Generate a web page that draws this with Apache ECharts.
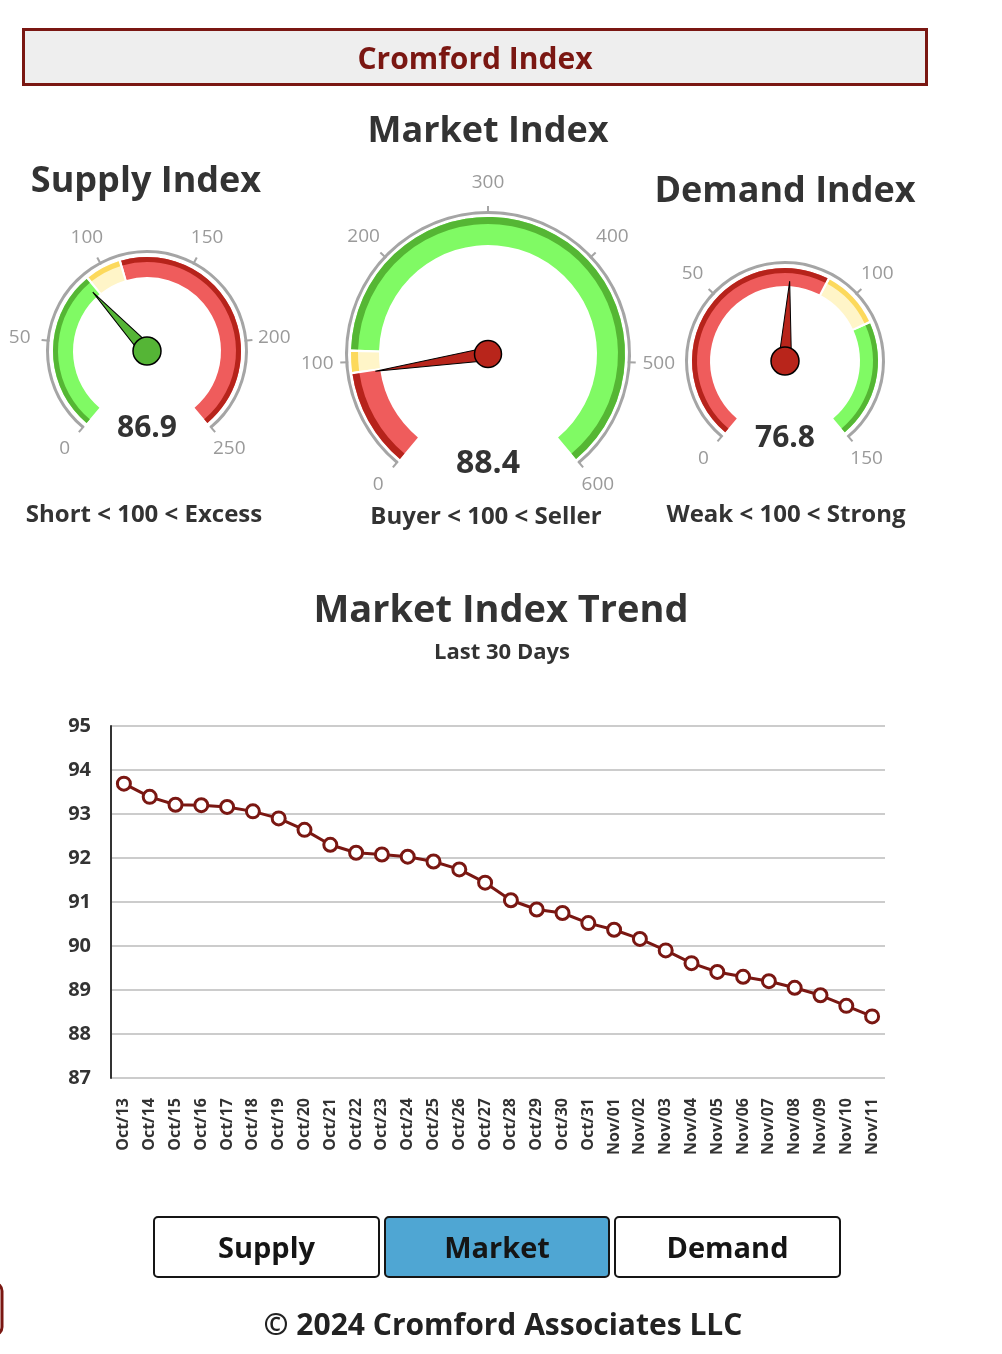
<!DOCTYPE html>
<html>
<head>
<meta charset="utf-8">
<title>Cromford Index</title>
<script src="https://cdn.jsdelivr.net/npm/echarts@6/dist/echarts.min.js"></script>
<style>
  html, body { margin: 0; padding: 0; background: #fff; }
  #page { width: 1002px; height: 1354px; }
</style>
</head>
<body>
<div id="page"></div>
<script>
// gauge readings
var supplyValue = 86.9;
var marketValue = 88.4;
var demandValue = 76.8;

// gauge scales: [min, max], number of splits, band edges
var supplyRange = [0, 250];
var marketRange = [0, 600];
var demandRange = [0, 150];
var supplySplits = 5;
var marketSplits = 6;
var demandSplits = 3;
var supplyEdges = [90, 110];
var marketEdges = [90, 110];
var demandEdges = [90, 110];

// trend (last 30 days)
var trendDates = ['Oct/13', 'Oct/14', 'Oct/15', 'Oct/16', 'Oct/17', 'Oct/18', 'Oct/19', 'Oct/20',
    'Oct/21', 'Oct/22', 'Oct/23', 'Oct/24', 'Oct/25', 'Oct/26', 'Oct/27', 'Oct/28', 'Oct/29',
    'Oct/30', 'Oct/31', 'Nov/01', 'Nov/02', 'Nov/03', 'Nov/04', 'Nov/05', 'Nov/06', 'Nov/07',
    'Nov/08', 'Nov/09', 'Nov/10', 'Nov/11'];
var trendValues = [93.69, 93.39, 93.21, 93.2, 93.16, 93.06, 92.9, 92.64, 92.3, 92.12, 92.08, 92.03,
    91.92, 91.74, 91.44, 91.04, 90.83, 90.75, 90.52, 90.37, 90.16, 89.9, 89.61, 89.41, 89.3, 89.2,
    89.05, 88.88, 88.64, 88.4];
var trendMin = 87, trendMax = 95;

var FONT = '"Open Sans", "Noto Sans", sans-serif';
var DARK = '#7a1712';
var light = { green: '#80fa64', yellow: '#fff5c8', red: '#ef5c5c' };
var dark = { green: '#55b634', yellow: '#fcd95c', red: '#b6231b' };

var myChart = echarts.init(document.getElementById('page'));

// colour stops with a thin white gap between bands
function bandStops(edges, colors, max, gap) {
    var stops = [];
    for (var i = 0; i < colors.length; i++) {
        if (i < edges.length) {
            stops.push([edges[i] / max - gap, colors[i]]);
            stops.push([edges[i] / max + gap, '#fff']);
        } else {
            stops.push([1, colors[i]]);
        }
    }
    return stops;
}

function hidden() {
    return {
        axisLine: { show: false, lineStyle: { width: 0 } },
        splitLine: { show: false, length: 0, distance: 0 },
        axisTick: { show: false },
        axisLabel: { show: false },
        pointer: { show: false },
        anchor: { show: false },
        title: { show: false },
        detail: { show: false }
    };
}

function gauge(g) {
    var base = { type: 'gauge', center: [g.cx, g.cy], startAngle: 230, endAngle: -50,
        min: g.range[0], max: g.range[1], splitNumber: g.splits, silent: true };
    var gap = 1.2 / (g.bandR * (280 / 180 * Math.PI));
    var light_ = g.colors.map(function (c) { return light[c]; });
    var dark_ = g.colors.map(function (c) { return dark[c]; });
    var out = [];

    // grey outer ring with ticks
    out.push(echarts.util.merge(echarts.util.merge({}, base), echarts.util.merge(hidden(), {
        radius: g.ringR, z: 2,
        axisLine: { show: true, lineStyle: { width: 3, color: [[1, '#a5a5a5']] } },
        splitLine: { show: true, length: 8, distance: -8, lineStyle: { color: '#a5a5a5', width: 2 } },
        data: []
    }, true)));
    // tick labels
    out.push(echarts.util.merge(echarts.util.merge({}, base), echarts.util.merge(hidden(), {
        radius: g.ringR, z: 2,
        axisLabel: { show: true, distance: g.ringR - g.labelR, rotate: 0.001, color: '#9a9a9a',
            fontSize: 19, fontFamily: FONT },
        data: []
    }, true)));
    // light band
    out.push(echarts.util.merge(echarts.util.merge({}, base), echarts.util.merge(hidden(), {
        radius: g.bandR, z: 3,
        axisLine: { show: true, lineStyle: { width: g.bandW, color: bandStops(g.edges, light_, g.range[1], gap) } },
        data: []
    }, true)));
    // darker outer edge of the band
    out.push(echarts.util.merge(echarts.util.merge({}, base), echarts.util.merge(hidden(), {
        radius: g.bandR, z: 4,
        axisLine: { show: true, lineStyle: { width: g.darkW, color: bandStops(g.edges, dark_, g.range[1], gap) } },
        data: []
    }, true)));
    // needle + value
    out.push(echarts.util.merge(echarts.util.merge({}, base), echarts.util.merge(hidden(), {
        radius: g.bandR, z: 6,
        pointer: { show: true, length: g.needle, width: 6.5,
            itemStyle: { color: g.needleColor, borderColor: '#000', borderWidth: 1 } },
        anchor: { show: true, showAbove: true, size: g.anchor,
            itemStyle: { color: g.needleColor, borderColor: '#000', borderWidth: 1.5 } },
        detail: { show: true, offsetCenter: [0, g.detailY], fontSize: g.detailSize, fontWeight: 'bold',
            color: '#333', fontFamily: FONT, formatter: '{value}' },
        data: [{ value: g.value }]
    }, true)));
    return out;
}

var gauges = []
    .concat(gauge({ cx: 147, cy: 351, range: supplyRange, splits: supplySplits, edges: supplyEdges,
        colors: ['green', 'yellow', 'red'], value: supplyValue, ringR: 101, labelR: 128,
        bandR: 94, bandW: 20, darkW: 5, needle: 80, anchor: 28, needleColor: '#55b536',
        detailY: 77, detailSize: 30 }))
    .concat(gauge({ cx: 488, cy: 354, range: marketRange, splits: marketSplits, edges: marketEdges,
        colors: ['red', 'yellow', 'green'], value: marketValue, ringR: 143, labelR: 171,
        bandR: 137, bandW: 28, darkW: 7, needle: 114, anchor: 27, needleColor: '#b8251b',
        detailY: 110, detailSize: 32 }))
    .concat(gauge({ cx: 785, cy: 361, range: demandRange, splits: demandSplits, edges: demandEdges,
        colors: ['red', 'yellow', 'green'], value: demandValue, ringR: 100, labelR: 127,
        bandR: 93, bandW: 18, darkW: 5, needle: 80, anchor: 28, needleColor: '#b8251b',
        detailY: 77, detailSize: 30 }));

function txt(x, y, s, size, color) {
    return { type: 'text', x: x, y: y + 2, silent: true, z: 10,
        style: { text: s, fill: color || '#333', font: 'bold ' + size + 'px ' + FONT,
            textAlign: 'center', textVerticalAlign: 'middle' } };
}

function button(x, w, label, fill) {
    return [
        { type: 'rect', shape: { x: x, y: 1217, width: w, height: 60, r: 4 }, silent: true,
            style: { fill: fill, stroke: '#151515', lineWidth: 2 } },
        txt(x + w / 2, 1248, label, 29, '#151515')
    ];
}

var option = {
    animation: false,
    backgroundColor: '#fff',
    graphic: [
        { type: 'rect', shape: { x: 23.5, y: 29.5, width: 903, height: 55 }, silent: true,
            style: { fill: '#eeeeee', stroke: DARK, lineWidth: 3 } },
        txt(475, 58, 'Cromford Index', 30, DARK),
        txt(488, 130, 'Market Index', 36),
        txt(146, 180, 'Supply Index', 36),
        txt(785, 190, 'Demand Index', 36),
        txt(144, 513, 'Short < 100 < Excess', 24),
        txt(486, 515, 'Buyer < 100 < Seller', 24),
        txt(786, 513, 'Weak < 100 < Strong', 24),
        txt(501, 609, 'Market Index Trend', 38),
        txt(502, 651, 'Last 30 Days', 22),
        { type: 'rect', shape: { x: -30, y: 1283, width: 32, height: 52, r: 8 }, silent: true,
            style: { fill: '#fff', stroke: DARK, lineWidth: 3 } },
        txt(503, 1324, '\u00a9 2024 Cromford Associates LLC', 30, '#222')
    ].concat(button(154, 225, 'Supply', '#fff'))
     .concat(button(385, 224, 'Market', '#4fa6d3'))
     .concat(button(615, 225, 'Demand', '#fff')),
    grid: { left: 111, right: 117, top: 726, bottom: 276 },
    xAxis: {
        type: 'category',
        data: trendDates,
        boundaryGap: true,
        axisLine: { show: false },
        axisTick: { show: false },
        axisLabel: { interval: 0, rotate: 90, margin: 20, fontSize: 16, fontWeight: 'bold',
            color: '#333', fontFamily: FONT }
    },
    yAxis: {
        type: 'value',
        min: trendMin,
        max: trendMax,
        interval: 1,
        axisLine: { show: true, lineStyle: { color: '#333', width: 2 } },
        axisTick: { show: false },
        axisLabel: { margin: 20, fontSize: 20, fontWeight: 'bold', color: '#333', fontFamily: FONT },
        splitLine: { lineStyle: { color: '#cccccc', width: 2 } }
    },
    series: gauges.concat([{
        type: 'line',
        data: trendValues,
        symbol: 'circle',
        symbolSize: 13,
        showAllSymbol: true,
        lineStyle: { color: DARK, width: 3 },
        itemStyle: { color: '#fff', borderColor: DARK, borderWidth: 3 },
        z: 5
    }])
};

myChart.setOption(option);

window.onresize = function () {
    myChart.resize();
};
</script>
</body>
</html>
